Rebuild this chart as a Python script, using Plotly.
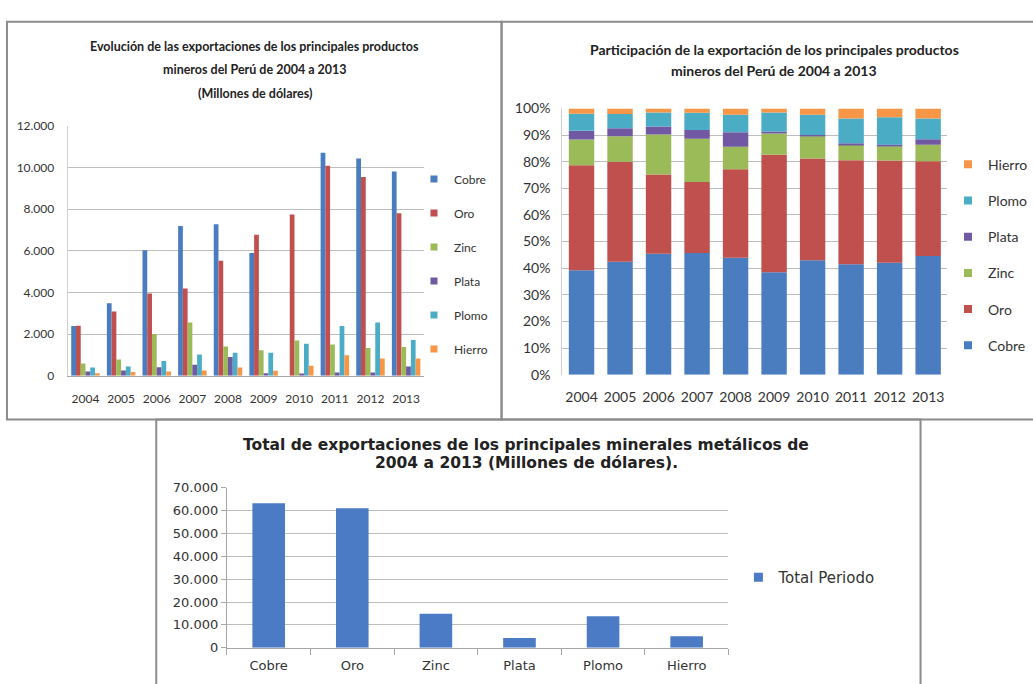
import plotly.graph_objects as go

W, H = 1033, 684

# ---- data (millones de US$) ----
anios = ['2004', '2005', '2006', '2007', '2008', '2009', '2010', '2011', '2012', '2013']
productos = ['Cobre', 'Oro', 'Zinc', 'Plata', 'Plomo', 'Hierro']

cobre = [2390, 3480, 6030, 7190, 7280, 5900, None, 10720, 10440, 9810]
oro = [2400, 3090, 3950, 4190, 5520, 6770, 7750, 10090, 9550, 7810]
zinc = [590, 780, 2000, 2550, 1400, 1220, 1690, 1500, 1330, 1380]
plata = [200, 250, 400, 520, 900, 120, 100, 150, 150, 440]
plomo = [390, 440, 700, 1020, 1100, 1100, 1530, 2390, 2550, 1720]
hierro = [120, 170, 200, 250, 390, 230, 480, 980, 830, 830]

# the share chart includes the 2010 copper figure
cobre_participacion = [2390, 3480, 6030, 7190, 7280, 5900, 8700, 10720, 10440, 9810]

total_periodo = [63200, 61100, 14900, 4300, 13800, 5000]

colores = {
    'Cobre': '#4A7DC0',
    'Oro': '#C0504D',
    'Zinc': '#9BBB59',
    'Plata': '#7058A3',
    'Plomo': '#4BACC6',
    'Hierro': '#F79646',
}
azul_total = '#4B7BC5'
texto = '#333333'


def fx(p):
    return p / W


def fy(p):
    return 1 - p / H


fig = go.Figure()

# ---- 1) evolución: grouped bars ----
evolucion = dict(zip(productos, [cobre, oro, zinc, plata, plomo, hierro]))
for rango, (nombre, valores) in enumerate(evolucion.items()):
    fig.add_trace(go.Bar(
        x=anios, y=valores, name=nombre, marker=dict(color=colores[nombre], line=dict(width=0)),
        xaxis='x', yaxis='y', legend='legend', legendgroup='evo_' + nombre, showlegend=False,
    ))
    fig.add_trace(go.Scatter(
        x=[None], y=[None], mode='markers', name=nombre, legendrank=rango + 1,
        marker=dict(symbol='square', size=7, color=colores[nombre]),
        xaxis='x', yaxis='y', legend='legend', legendgroup='evo_' + nombre,
    ))

# ---- 2) participación: 100 % stacked bars ----
participacion = dict(zip(productos, [cobre_participacion, oro, zinc, plata, plomo, hierro]))
totales = [sum(v[i] for v in participacion.values()) for i in range(len(anios))]
base = [0.0] * len(anios)
n = len(productos)
for rango, (nombre, valores) in enumerate(participacion.items()):
    pct = [v / t * 100 for v, t in zip(valores, totales)]
    fig.add_trace(go.Bar(
        x=anios, y=pct, base=list(base), width=0.66, offsetgroup='participacion',
        name=nombre, marker=dict(color=colores[nombre], line=dict(width=0)),
        xaxis='x2', yaxis='y2', legend='legend2', legendgroup='par_' + nombre, showlegend=False,
    ))
    # legend lists the top segment first
    fig.add_trace(go.Scatter(
        x=[None], y=[None], mode='markers', name=nombre, legendrank=n - rango,
        marker=dict(symbol='square', size=8, color=colores[nombre]),
        xaxis='x2', yaxis='y2', legend='legend2', legendgroup='par_' + nombre,
    ))
    base = [b + p for b, p in zip(base, pct)]

# ---- 3) total del periodo ----
fig.add_trace(go.Bar(
    x=productos, y=total_periodo, width=0.39, name='Total Periodo',
    marker=dict(color=azul_total, line=dict(width=0)),
    xaxis='x3', yaxis='y3', legend='legend3', legendgroup='total', showlegend=False,
))
fig.add_trace(go.Scatter(
    x=[None], y=[None], mode='markers', name='Total Periodo',
    marker=dict(symbol='square', size=9, color=azul_total),
    xaxis='x3', yaxis='y3', legend='legend3', legendgroup='total',
))

top_font = dict(family='Lato', size=12, color=texto)
right_font = dict(family='Lato', size=14, color=texto)
bottom_font = dict(family='DejaVu Sans', size=13, color=texto)

fig.update_layout(
    width=W, height=H,
    margin=dict(l=0, r=0, t=0, b=0),
    paper_bgcolor='white', plot_bgcolor='white',
    separators=',.',
    barmode='group', bargap=0.2, bargroupgap=0,
    hovermode=False,
    xaxis=dict(
        domain=[fx(68), fx(426)], anchor='y', type='category',
        showgrid=False, showline=True, linecolor='#A6A6A6', linewidth=1,
        ticks='', tickfont=top_font, ticklabelstandoff=12, fixedrange=True,
    ),
    yaxis=dict(
        domain=[fy(376), fy(120)], anchor='x', range=[0, 12000], dtick=2000,
        tickformat=',d', showgrid=True, gridcolor='#BDBDBD', gridwidth=1,
        zeroline=False, showline=True, linecolor='#D0D0D0',
        ticks='', tickfont=top_font, ticklabelstandoff=10, fixedrange=True,
    ),
    xaxis2=dict(
        domain=[fx(565), fx(952)], anchor='y2', type='category',
        showgrid=False, showline=False,
        ticks='', tickfont=right_font, ticklabelstandoff=12, fixedrange=True,
    ),
    yaxis2=dict(
        domain=[fy(375), fy(102)], anchor='x2', range=[0, 100], dtick=10,
        ticksuffix='%', showgrid=True, gridcolor='#BDBDBD', gridwidth=1,
        zeroline=False, showline=True, linecolor='#D0D0D0',
        ticks='', tickfont=right_font, ticklabelstandoff=8, fixedrange=True,
    ),
    xaxis3=dict(
        domain=[fx(228), fx(732)], anchor='y3', type='category',
        showgrid=False, showline=True, linecolor='#A6A6A6', linewidth=1,
        ticks='outside', tickson='boundaries', ticklen=6, tickcolor='#A6A6A6',
        tickfont=bottom_font, ticklabelstandoff=6, fixedrange=True,
    ),
    yaxis3=dict(
        domain=[fy(655), fy(491)], anchor='x3', range=[0, 70000], dtick=10000,
        tickformat=',d', showgrid=True, gridcolor='#BDBDBD', gridwidth=1,
        zeroline=False, showline=True, linecolor='#A6A6A6',
        ticks='outside', ticklen=5, tickcolor='#A6A6A6',
        tickfont=bottom_font, fixedrange=True,
    ),
    legend=dict(
        x=fx(416), xanchor='left', y=fy(261.5), yanchor='middle',
        font=dict(family='Lato', size=12, color=texto), tracegroupgap=15,
        traceorder='grouped', bgcolor='rgba(0,0,0,0)',
    ),
    legend2=dict(
        x=fx(953), xanchor='left', y=fy(252.5), yanchor='middle',
        font=dict(family='Lato', size=14, color=texto), tracegroupgap=15,
        traceorder='grouped', bgcolor='rgba(0,0,0,0)',
    ),
    legend3=dict(
        x=fx(742), xanchor='left', y=fy(583), yanchor='middle',
        font=dict(family='DejaVu Sans', size=15, color=texto),
        bgcolor='rgba(0,0,0,0)',
    ),
)

# panel frames
marco = dict(color='#8C8C8C', width=2)
fig.add_shape(type='rect', xref='paper', yref='paper', x0=fx(7), x1=fx(504), y0=fy(421), y1=fy(13), line=marco, layer='below')
fig.add_shape(type='rect', xref='paper', yref='paper', x0=fx(504), x1=fx(1045), y0=fy(421), y1=fy(13), line=marco, layer='below')
fig.add_shape(type='rect', xref='paper', yref='paper', x0=fx(157), x1=fx(925), y0=fy(700), y1=fy(421), line=marco, layer='below')

# titles
titulos = [
    ('<b>Evolución de las exportaciones de los principales productos</b>', 256, 38, 'Lato', 12.5),
    ('<b>mineros del Perú de 2004 a 2013</b>', 256, 62, 'Lato', 12.5),
    ('<b>(Millones de dólares)</b>', 256, 87, 'Lato', 12.5),
    ('<b>Participación de la exportación de los principales productos</b>', 778, 42, 'Lato', 14),
    ('<b>mineros del Perú de 2004 a 2013</b>', 778, 63, 'Lato', 14),
    ('<b>Total de exportaciones de los principales minerales metálicos de</b>', 529, 447, 'DejaVu Sans', 15.5),
    ('<b>2004 a 2013 (Millones de dólares).</b>', 529, 466, 'DejaVu Sans', 15.5),
]
for txt, cx, cy, fam, size in titulos:
    fig.add_annotation(
        text=txt, x=fx(cx), y=fy(cy), xref='paper', yref='paper',
        xanchor='center', yanchor='middle', showarrow=False,
        font=dict(family=fam, size=size, color='#222222'),
    )

fig.write_html('out.html', config={'displayModeBar': False})
